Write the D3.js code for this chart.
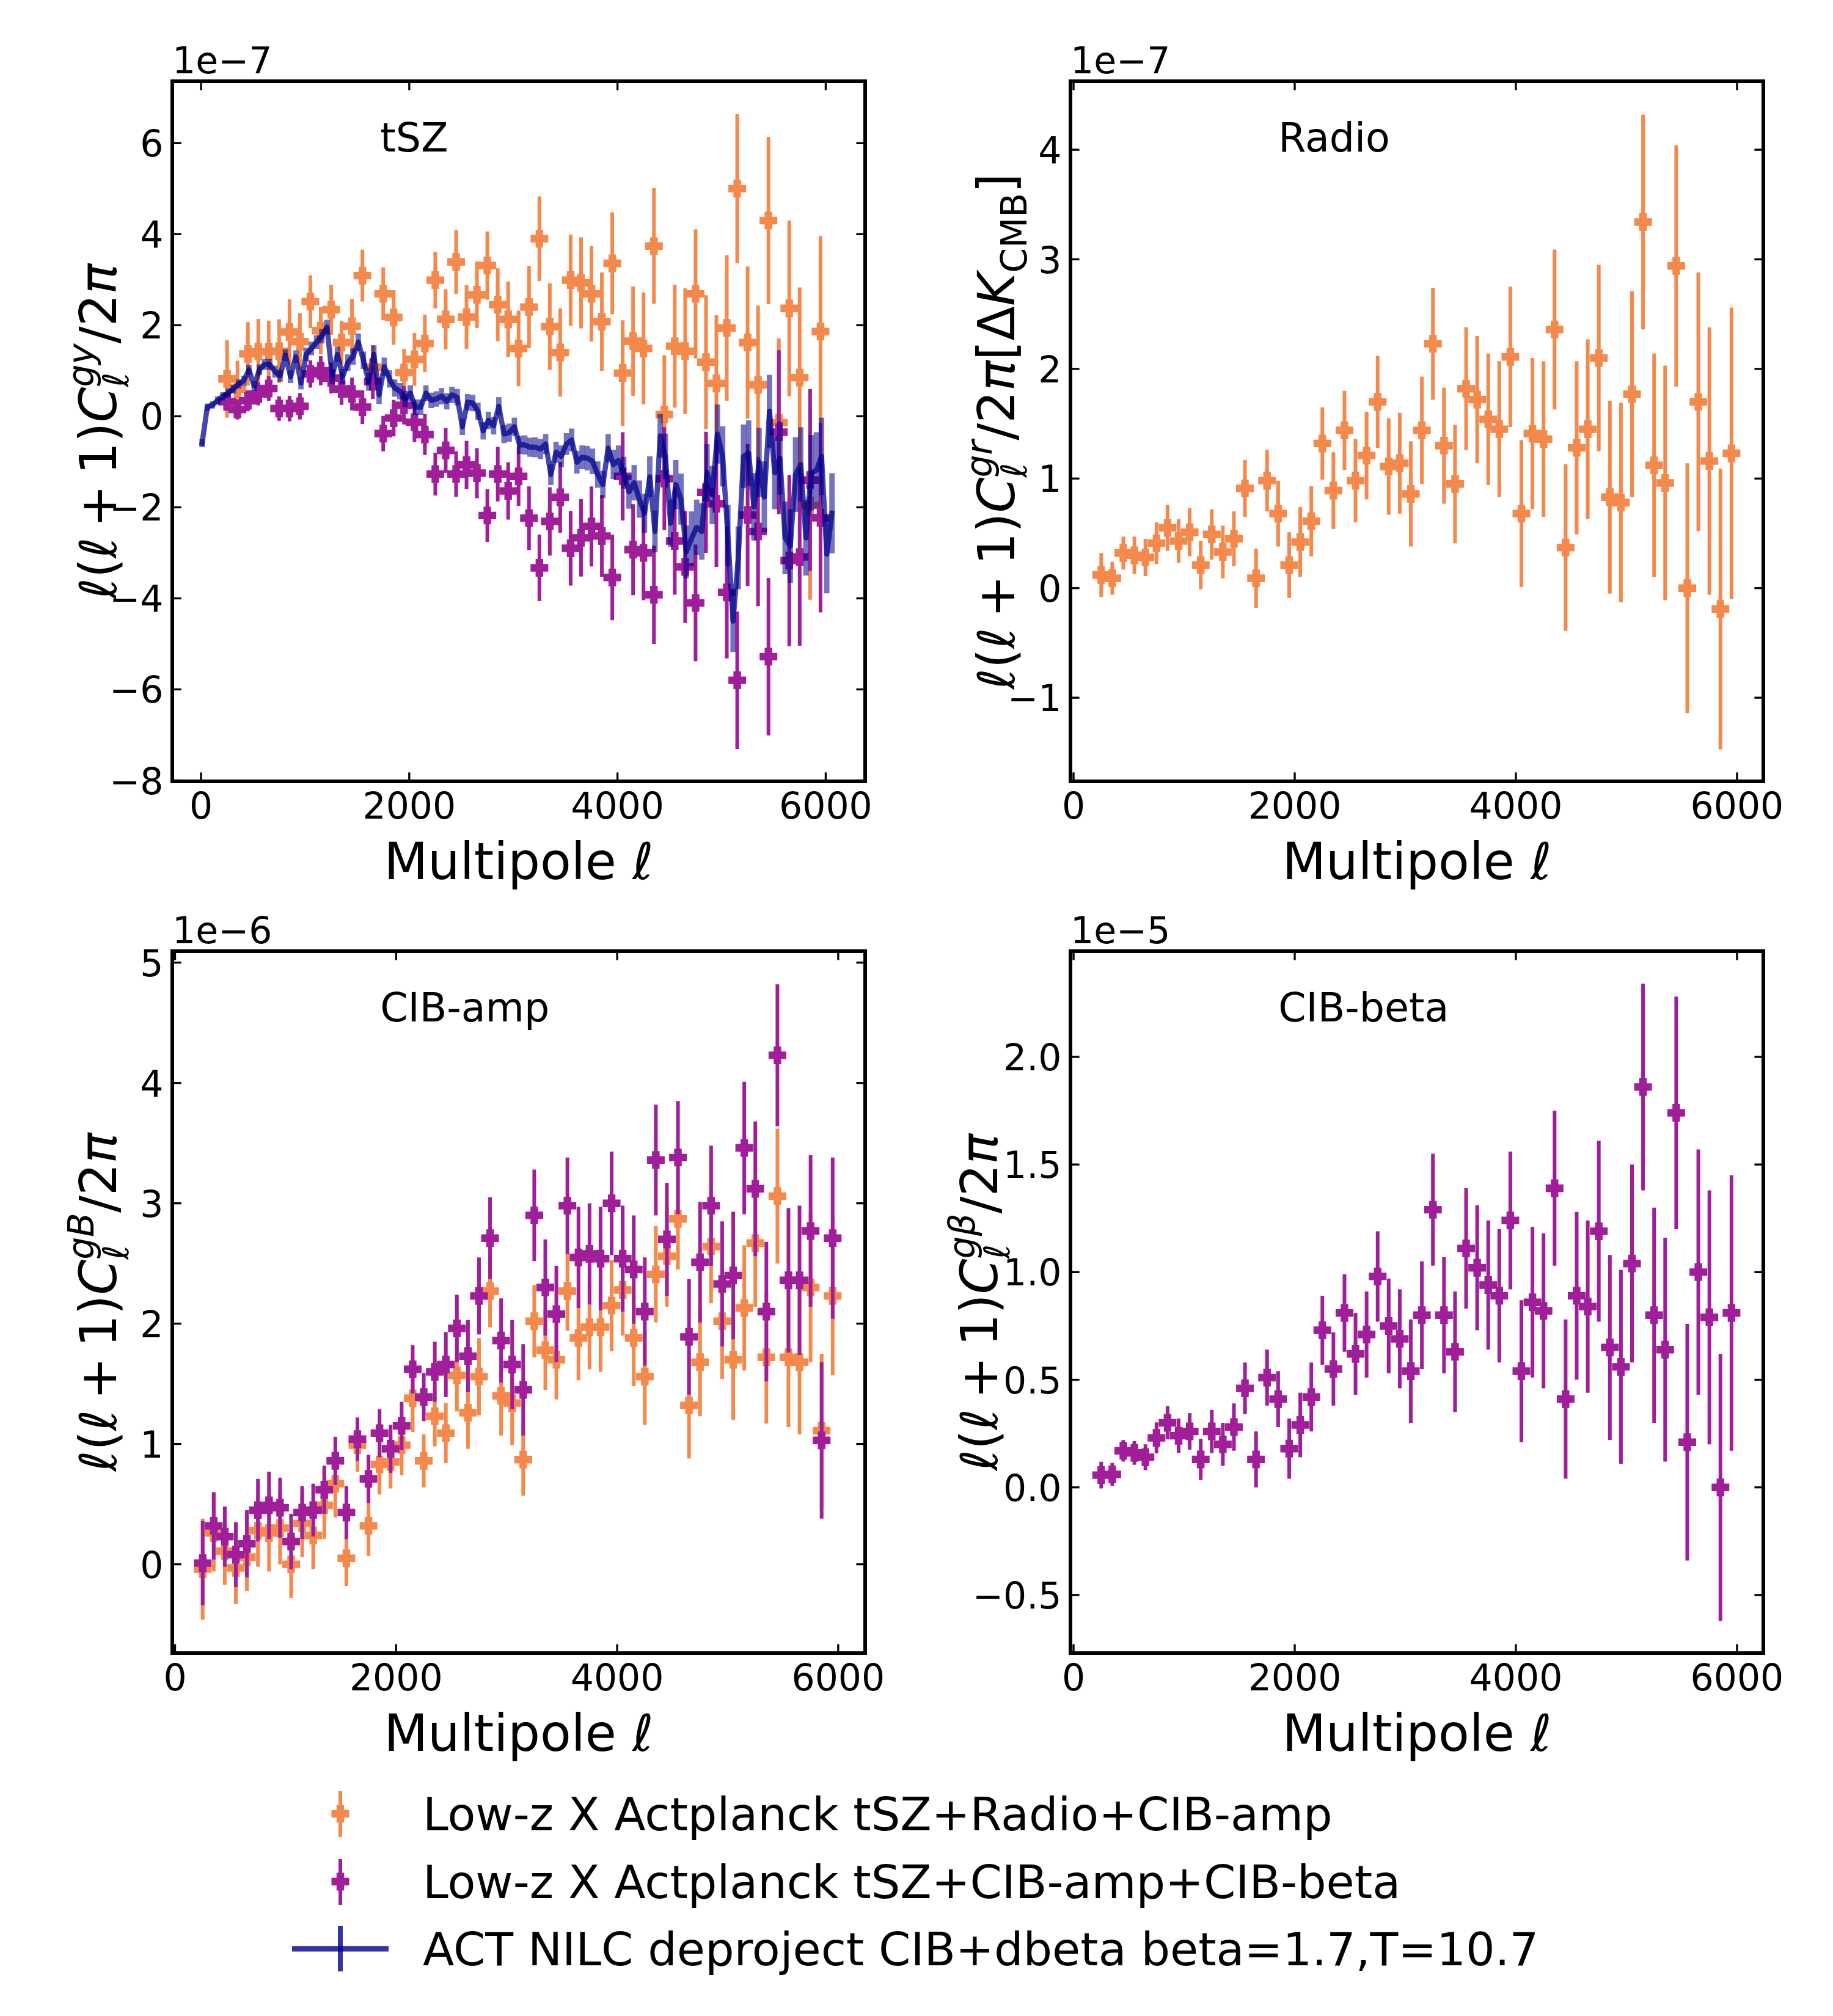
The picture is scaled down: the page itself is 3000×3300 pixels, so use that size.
<!DOCTYPE html>
<html><head><meta charset="utf-8">
<script src="https://cdn.jsdelivr.net/npm/d3@7"></script>
<style>body{margin:0;background:#fff} text{font-family:"DejaVu Sans",sans-serif}</style>
</head><body>
<svg id="chart" width="3000" height="3300"></svg>
<script>
// ---------------- DATA ----------------
const ell = [250,350,450,550,650,750,850,950,1050,1150,1250,1350,1450,1550,1650,1750,1850,1950,2050,2150,2250,2350,2450,2550,2650,2750,2850,2950,3050,3150,3250,3350,3450,3550,3650,3750,3850,3950,4050,4150,4250,4350,4450,4550,4650,4750,4850,4950,5050,5150,5250,5350,5450,5550,5650,5750,5850,5950];

// tSZ panel (units of 1e-7)
const tszOrange = [0.82,0.60,1.37,1.42,1.42,1.43,1.85,1.64,2.52,1.88,2.34,1.62,1.98,3.09,1.08,2.69,2.17,0.96,1.25,1.60,2.99,2.13,3.39,2.18,2.67,3.31,2.45,2.13,1.49,2.40,3.90,1.97,1.40,2.99,2.93,2.69,2.08,3.36,0.95,1.65,1.49,3.74,0.04,1.54,1.43,2.69,1.19,0.72,1.94,5.00,1.62,0.69,4.30,-0.14,2.37,0.85,-1.96,1.86];
const tszOrangeErr = [0.85,0.62,0.70,0.72,0.68,0.70,0.72,0.63,0.58,0.52,0.55,0.48,0.60,0.57,0.48,0.58,0.60,0.52,0.58,0.63,0.62,0.66,0.70,0.70,0.73,0.75,0.80,0.83,0.83,0.90,0.93,0.95,0.97,1.00,1.00,1.05,1.08,1.12,1.16,1.20,1.23,1.27,1.30,1.35,1.38,1.42,1.47,1.50,1.60,1.64,1.67,1.74,1.84,1.85,1.93,1.98,2.07,2.10];
const tszPurple = [0.32,0.15,0.34,0.49,0.61,0.17,0.17,0.22,0.93,1.00,0.84,0.60,0.49,0.20,0.76,-0.38,-0.04,0.24,-0.13,-0.40,-1.27,-0.75,-1.27,-1.07,-1.25,-2.18,-1.27,-1.64,-1.32,-2.24,-3.33,-2.31,-1.78,-2.90,-2.67,-2.42,-2.63,-3.54,-1.32,-2.93,-3.00,-3.92,-1.37,-2.74,-3.31,-4.10,-1.67,-1.92,-3.87,-5.80,-2.17,-2.53,-5.28,-0.35,-3.17,-3.09,-1.40,-2.23];
const tszPurpleErr = [0.20,0.22,0.23,0.25,0.27,0.27,0.28,0.29,0.30,0.32,0.34,0.35,0.36,0.37,0.38,0.39,0.40,0.42,0.44,0.45,0.47,0.49,0.50,0.53,0.55,0.58,0.60,0.63,0.65,0.70,0.73,0.75,0.78,0.82,0.85,0.88,0.90,0.94,0.97,1.00,1.04,1.08,1.13,1.18,1.23,1.28,1.33,1.39,1.45,1.51,1.56,1.64,1.73,1.80,1.88,1.95,2.00,2.08];

// ACT NILC deprojected curve in tSZ panel (units of 1e-7)
const nilcEll = [10,60,110,160,210,260,310,360,410,460,510,560,610,660,710,760,810,860,910,960,1010,1060,1110,1160,1210,1260,1310,1360,1410,1460,1510,1560,1610,1660,1710,1760,1810,1860,1910,1960,2010,2060,2110,2160,2210,2260,2310,2360,2410,2460,2510,2560,2610,2660,2710,2760,2810,2860,2910,2960,3010,3060,3110,3160,3210,3260,3310,3360,3410,3460,3510,3560,3610,3660,3710,3760,3810,3860,3910,3960,4010,4060,4110,4160,4210,4260,4310,4360,4410,4460,4510,4560,4610,4660,4710,4760,4810,4860,4910,4960,5010,5060,5110,5160,5210,5260,5310,5360,5410,5460,5510,5560,5610,5660,5710,5760,5810,5860,5910,5960,6010,6060];
const nilcVal = [-0.59,0.20,0.25,0.35,0.44,0.51,0.60,0.71,0.78,1.02,0.67,1.02,1.14,1.14,0.98,0.89,1.34,0.87,1.31,0.73,1.36,1.49,1.63,1.76,1.96,0.87,1.36,0.87,1.18,1.31,1.63,1.23,0.76,1.36,0.47,1.09,0.82,0.62,0.55,0.38,0.51,0.20,0.20,0.51,0.35,0.38,0.44,0.33,0.47,0.42,-0.23,0.31,0.29,0.11,-0.32,-0.09,-0.21,0.22,-0.39,-0.36,-0.23,-0.63,-0.63,-0.68,-0.68,-0.72,-0.61,-1.28,-0.79,-0.88,-0.61,-0.52,-1.01,-0.90,-0.92,-0.99,-1.28,-1.50,-0.70,-1.06,-0.97,-1.24,-1.66,-1.46,-1.82,-2.13,-1.33,-2.53,-0.43,-0.88,-2.35,-1.50,-1.82,-2.98,-2.69,-2.44,-2.53,-1.24,-1.73,-0.39,-0.88,-2.62,-4.50,-3.11,-0.88,-0.81,-1.99,-1.01,-1.77,0.11,-1.24,-0.92,-2.67,-2.85,-1.28,-1.06,-2.67,-1.24,-1.19,-0.88,-3.03,-2.13];
const nilcErr = [0.09,0.08,0.08,0.09,0.09,0.10,0.10,0.10,0.11,0.11,0.11,0.12,0.12,0.12,0.13,0.13,0.13,0.14,0.14,0.14,0.15,0.15,0.15,0.16,0.16,0.17,0.17,0.17,0.18,0.18,0.19,0.19,0.20,0.20,0.20,0.20,0.19,0.19,0.18,0.18,0.17,0.17,0.17,0.17,0.17,0.17,0.18,0.18,0.18,0.18,0.18,0.18,0.18,0.19,0.19,0.19,0.19,0.20,0.20,0.20,0.20,0.20,0.21,0.21,0.22,0.22,0.22,0.23,0.23,0.24,0.24,0.25,0.25,0.26,0.27,0.28,0.29,0.30,0.31,0.32,0.33,0.35,0.37,0.39,0.41,0.43,0.45,0.46,0.48,0.50,0.52,0.54,0.56,0.58,0.60,0.61,0.62,0.63,0.64,0.65,0.66,0.67,0.68,0.69,0.70,0.72,0.74,0.76,0.78,0.80,0.80,0.80,0.80,0.81,0.82,0.82,0.83,0.83,0.84,0.85,0.86,0.88];

// Radio panel (units of 1e-7)
const radioOrange = [0.12,0.09,0.32,0.30,0.28,0.41,0.55,0.43,0.51,0.21,0.49,0.33,0.45,0.91,0.09,0.98,0.68,0.21,0.42,0.61,1.32,0.89,1.44,0.98,1.21,1.70,1.11,1.14,0.86,1.44,2.23,1.30,0.95,1.82,1.72,1.54,1.45,2.11,0.68,1.41,1.36,2.36,0.37,1.28,1.45,2.10,0.83,0.78,1.77,3.34,1.12,0.96,2.94,0.00,1.70,1.16,-0.19,1.23];
const radioOrangeErr = [0.20,0.15,0.15,0.17,0.17,0.19,0.21,0.20,0.22,0.22,0.23,0.24,0.25,0.26,0.27,0.28,0.30,0.30,0.32,0.32,0.33,0.35,0.36,0.38,0.40,0.42,0.44,0.46,0.48,0.49,0.51,0.53,0.54,0.56,0.58,0.60,0.62,0.64,0.67,0.69,0.71,0.73,0.76,0.79,0.82,0.85,0.88,0.91,0.94,0.98,1.02,1.07,1.10,1.14,1.18,1.22,1.28,1.33];

// CIB-amp panel (units of 1e-6)
const cibAmpOrange = [-0.04,0.26,0.11,-0.03,0.06,0.28,0.26,0.30,0.00,0.34,0.24,0.49,0.67,0.05,0.99,0.32,0.83,0.85,0.99,1.38,0.86,1.23,1.09,1.57,1.26,1.56,2.27,1.40,1.34,0.87,2.02,1.78,1.70,2.27,1.88,1.97,1.97,2.15,2.28,1.88,1.56,2.41,2.56,2.87,1.32,1.68,2.64,2.02,1.70,2.13,2.67,1.72,3.06,1.72,1.68,2.30,1.11,2.23];
const cibAmpOrangeErr = [0.42,0.32,0.28,0.30,0.28,0.30,0.32,0.30,0.28,0.28,0.28,0.28,0.28,0.23,0.22,0.25,0.25,0.22,0.25,0.28,0.22,0.25,0.25,0.30,0.30,0.32,0.30,0.33,0.35,0.30,0.30,0.33,0.33,0.33,0.35,0.35,0.37,0.38,0.38,0.40,0.40,0.40,0.42,0.42,0.44,0.45,0.47,0.48,0.50,0.52,0.53,0.55,0.56,0.58,0.60,0.62,0.64,0.66];
const cibAmpPurple = [0.01,0.32,0.23,0.08,0.17,0.45,0.49,0.47,0.19,0.43,0.45,0.62,0.86,0.43,1.04,0.71,1.09,0.96,1.15,1.62,1.39,1.60,1.66,1.96,1.73,2.23,2.71,1.86,1.66,1.45,2.90,2.30,2.08,2.98,2.55,2.58,2.54,3.00,2.54,2.45,2.10,3.36,2.70,3.38,1.89,2.51,2.98,2.33,2.40,3.46,3.12,2.10,4.23,2.36,2.36,2.77,1.03,2.71];
const cibAmpPurpleErr = [0.35,0.28,0.25,0.27,0.28,0.26,0.28,0.25,0.23,0.22,0.22,0.20,0.20,0.22,0.18,0.20,0.20,0.20,0.20,0.20,0.20,0.25,0.27,0.28,0.30,0.32,0.34,0.35,0.37,0.38,0.38,0.40,0.40,0.40,0.42,0.42,0.43,0.43,0.44,0.45,0.45,0.46,0.47,0.47,0.48,0.50,0.50,0.52,0.53,0.55,0.56,0.58,0.59,0.60,0.62,0.63,0.65,0.67];

// CIB-beta panel (units of 1e-5)
const cibBetaPurple = [0.057,0.06,0.17,0.16,0.14,0.23,0.30,0.24,0.26,0.13,0.26,0.20,0.28,0.46,0.13,0.51,0.41,0.18,0.29,0.42,0.73,0.55,0.81,0.62,0.71,0.98,0.75,0.69,0.54,0.80,1.29,0.80,0.63,1.11,1.02,0.94,0.89,1.24,0.54,0.86,0.82,1.39,0.41,0.89,0.84,1.19,0.65,0.56,1.04,1.86,0.80,0.64,1.74,0.21,1.00,0.79,0.00,0.81];
const cibBetaPurpleErr = [0.062,0.053,0.05,0.055,0.06,0.072,0.077,0.08,0.085,0.096,0.10,0.10,0.11,0.12,0.13,0.13,0.13,0.14,0.15,0.16,0.16,0.17,0.18,0.19,0.20,0.21,0.22,0.23,0.24,0.25,0.26,0.27,0.28,0.28,0.29,0.30,0.31,0.32,0.33,0.35,0.36,0.36,0.37,0.39,0.40,0.42,0.43,0.45,0.46,0.48,0.50,0.52,0.54,0.55,0.57,0.59,0.62,0.64];

// tick values / labels
const xTicks = [0,2000,4000,6000];
const tszTicks = [-8,-6,-4,-2,0,2,4,6];
const radioTicks = [-1,0,1,2,3,4];
const cibAmpTicks = [0,1,2,3,4,5];
const cibBetaTicks = [-0.5,0.0,0.5,1.0,1.5,2.0];
const legendLabels = ["Low-z X Actplanck tSZ+Radio+CIB-amp","Low-z X Actplanck tSZ+CIB-amp+CIB-beta","ACT NILC deproject CIB+dbeta beta=1.7,T=10.7"];

// ---------------- DRAW ----------------
const ORANGE = '#f4894b', PURPLE = '#a01e9a', BLUE = '#00008b';
const svg = d3.select('#chart');
svg.append('rect').attr('width',3000).attr('height',3300).attr('fill','#fff');

const TICKFS = 60, LABFS = 83, TITLEFS = 65;
const minus = s => String(s).replace('-', '\u2212');

function mathText(g, pieces, size){
  let x = 0;
  for (const p of pieces){
    if (p.sub || p.sup){
      let w = 0;
      for (const [k, sh] of [['sub',0.24],['sup',-0.45]]){
        const q = p[k]; if(!q) continue;
        const t = g.append('text').attr('x', x).attr('y', sh*size)
          .attr('font-size', size*0.7).attr('font-style', q.it?'italic':'normal').text(q.t);
        w = Math.max(w, t.node().getComputedTextLength());
      }
      x += w;
    } else {
      x += (p.sp||0)*size;
      const t = g.append('text').attr('x', x).attr('y', 0).attr('font-size', size)
        .attr('font-style', p.it?'italic':'normal').text(p.t);
      x += t.node().getComputedTextLength() + (p.sp||0)*size;
    }
  }
  return x;
}
const base = [{t:'\u2113',it:1},{t:'('},{t:'\u2113',it:1},{t:'+',sp:0.2},{t:'1'},{t:')'},{t:'C',it:1}];
const tail = [{t:'/'},{t:'2'},{t:'\u03c0',it:1}];

const panels = [
  {left:282, top:133, w:1134, h:1146, xd:[-276,6379], yd:[-8.02,7.36], yt:tszTicks, fmt:d=>minus(d), off:'1e\u22127', title:'tSZ',
   ylab:[...base,{sub:{t:'\u2113',it:1},sup:{t:'gy',it:1}},...tail], ylx:190,
   series:[{y:tszOrange,e:tszOrangeErr,c:ORANGE},{y:tszPurple,e:tszPurpleErr,c:PURPLE}], nilc:true},
  {left:1752, top:133, w:1134, h:1146, xd:[-28,6238], yd:[-1.763,4.625], yt:radioTicks, fmt:d=>minus(d), off:'1e\u22127', title:'Radio',
   ylab:[...base,{sub:{t:'\u2113',it:1},sup:{t:'gr',it:1}},...tail,{t:'['},{t:'\u0394'},{t:'K',it:1},{sub:{t:'CMB'}},{t:']'}], ylx:1660,
   series:[{y:radioOrange,e:radioOrangeErr,c:ORANGE}]},
  {left:282, top:1557, w:1134, h:1149, xd:[-25,6244], yd:[-0.738,5.095], yt:cibAmpTicks, fmt:d=>minus(d), off:'1e\u22126', title:'CIB-amp',
   ylab:[...base,{sub:{t:'\u2113',it:1},sup:{t:'gB',it:1}},...tail], ylx:190,
   series:[{y:cibAmpOrange,e:cibAmpOrangeErr,c:ORANGE},{y:cibAmpPurple,e:cibAmpPurpleErr,c:PURPLE}]},
  {left:1752, top:1557, w:1134, h:1149, xd:[-28,6238], yd:[-0.770,2.491], yt:cibBetaTicks, fmt:d=>minus(d3.format('.1f')(d)), off:'1e\u22125', title:'CIB-beta',
   ylab:[...base,{sub:{t:'\u2113',it:1},sup:{t:'g\u03b2',it:1}},...tail], ylx:1632,
   series:[{y:cibBetaPurple,e:cibBetaPurpleErr,c:PURPLE}]},
];

function plusPath(cx, cy, s, a){
  return `M${cx-a},${cy-s}H${cx+a}V${cy-a}H${cx+s}V${cy+a}H${cx+a}V${cy+s}H${cx-a}V${cy+a}H${cx-s}V${cy-a}H${cx-a}Z`;
}

panels.forEach((P, pi) => {
  const x = d3.scaleLinear().domain(P.xd).range([P.left, P.left+P.w]);
  const y = d3.scaleLinear().domain(P.yd).range([P.top+P.h, P.top]);
  const clipId = 'clip'+pi;
  svg.append('clipPath').attr('id', clipId).append('rect')
    .attr('x',P.left).attr('y',P.top).attr('width',P.w).attr('height',P.h);
  const g = svg.append('g').attr('clip-path', `url(#${clipId})`);

  P.series.forEach(S => {
    const sg = g.append('g');
    sg.selectAll('line').data(ell).join('line')
      .attr('x1', d=>x(d)).attr('x2', d=>x(d))
      .attr('y1', (d,i)=>y(S.y[i]-S.e[i])).attr('y2', (d,i)=>y(S.y[i]+S.e[i]))
      .attr('stroke', S.c).attr('stroke-width', 6);
    sg.selectAll('path').data(ell).join('path')
      .attr('d', (d,i)=>plusPath(x(d), y(S.y[i]), 14.5, 6.2)).attr('fill', S.c);
  });

  if (P.nilc){
    const ng = g.append('g');
    ng.selectAll('rect').data(nilcEll).join('rect')
      .attr('x', d=>x(d)-4.4).attr('width', 8.8)
      .attr('y', (d,i)=>y(nilcVal[i]+nilcErr[i])).attr('height', (d,i)=>y(nilcVal[i]-nilcErr[i])-y(nilcVal[i]+nilcErr[i]))
      .attr('fill', BLUE).attr('opacity', 0.55);
    const line = d3.line().x(d=>x(d[0])).y(d=>y(d[1]));
    ng.append('path').datum(nilcEll.map((d,i)=>[d,nilcVal[i]]))
      .attr('d', line).attr('fill','none').attr('stroke', BLUE).attr('stroke-width', 8.5)
      .attr('stroke-opacity', 0.72).attr('stroke-linejoin','round').attr('stroke-linecap','square');
  }

  // axes frame
  svg.append('rect').attr('x',P.left).attr('y',P.top).attr('width',P.w).attr('height',P.h)
    .attr('fill','none').attr('stroke','#000').attr('stroke-width',6);

  // ticks (inward, all sides)
  const TL = 14.6, TW = 3.3;
  const tk = svg.append('g').attr('stroke','#000').attr('stroke-width',TW);
  xTicks.forEach(t => {
    const xx = x(t);
    tk.append('line').attr('x1',xx).attr('x2',xx).attr('y1',P.top+P.h).attr('y2',P.top+P.h-TL);
    tk.append('line').attr('x1',xx).attr('x2',xx).attr('y1',P.top).attr('y2',P.top+TL);
    svg.append('text').attr('x',xx).attr('y',P.top+P.h+61).attr('text-anchor','middle')
      .attr('font-size',TICKFS).text(t);
  });
  P.yt.forEach(t => {
    const yy = y(t);
    tk.append('line').attr('x1',P.left).attr('x2',P.left+TL).attr('y1',yy).attr('y2',yy);
    tk.append('line').attr('x1',P.left+P.w).attr('x2',P.left+P.w-TL).attr('y1',yy).attr('y2',yy);
    svg.append('text').attr('x',P.left-14.6).attr('y',yy+22).attr('text-anchor','end')
      .attr('font-size',TICKFS).text(P.fmt(t));
  });

  // offset text
  svg.append('text').attr('x',P.left).attr('y',P.top-13).attr('font-size',TICKFS).text(P.off);
  // title
  svg.append('text').attr('x',P.left+0.3*P.w).attr('y',P.top+0.1*P.h).attr('font-size',TITLEFS).text(P.title);
  // x label
  const xl = svg.append('text').attr('x',P.left+P.w/2).attr('y',P.top+P.h+160).attr('text-anchor','middle')
    .attr('font-size',LABFS);
  xl.append('tspan').text('Multipole ');
  xl.append('tspan').attr('font-style','italic').text('\u2113');
  // y label
  const yg = svg.append('g').attr('transform',`translate(${P.ylx},${P.top+P.h/2}) rotate(-90)`);
  const inner = yg.append('g');
  const tot = mathText(inner, P.ylab, LABFS);
  inner.attr('transform',`translate(${-tot/2},0)`);
});

// ---------------- LEGEND ----------------
const LX = 557, LFS = 75;
const legY = [2969, 3080, 3190];
const lg = svg.append('g');
[ORANGE, PURPLE].forEach((c, i) => {
  lg.append('line').attr('x1',LX).attr('x2',LX).attr('y1',legY[i]-37).attr('y2',legY[i]+38)
    .attr('stroke',c).attr('stroke-width',6);
  lg.append('path').attr('d', plusPath(LX, legY[i], 14.5, 6.2)).attr('fill', c);
});
lg.append('line').attr('x1',478).attr('x2',636).attr('y1',legY[2]).attr('y2',legY[2])
  .attr('stroke',BLUE).attr('stroke-width',9).attr('stroke-opacity',0.8);
lg.append('line').attr('x1',LX).attr('x2',LX).attr('y1',legY[2]-37).attr('y2',legY[2]+37)
  .attr('stroke',BLUE).attr('stroke-width',8).attr('stroke-opacity',0.8);
legendLabels.forEach((t,i) => {
  lg.append('text').attr('x',692).attr('y',legY[i]+27).attr('font-size',LFS).text(t);
});
</script>
</body></html>
